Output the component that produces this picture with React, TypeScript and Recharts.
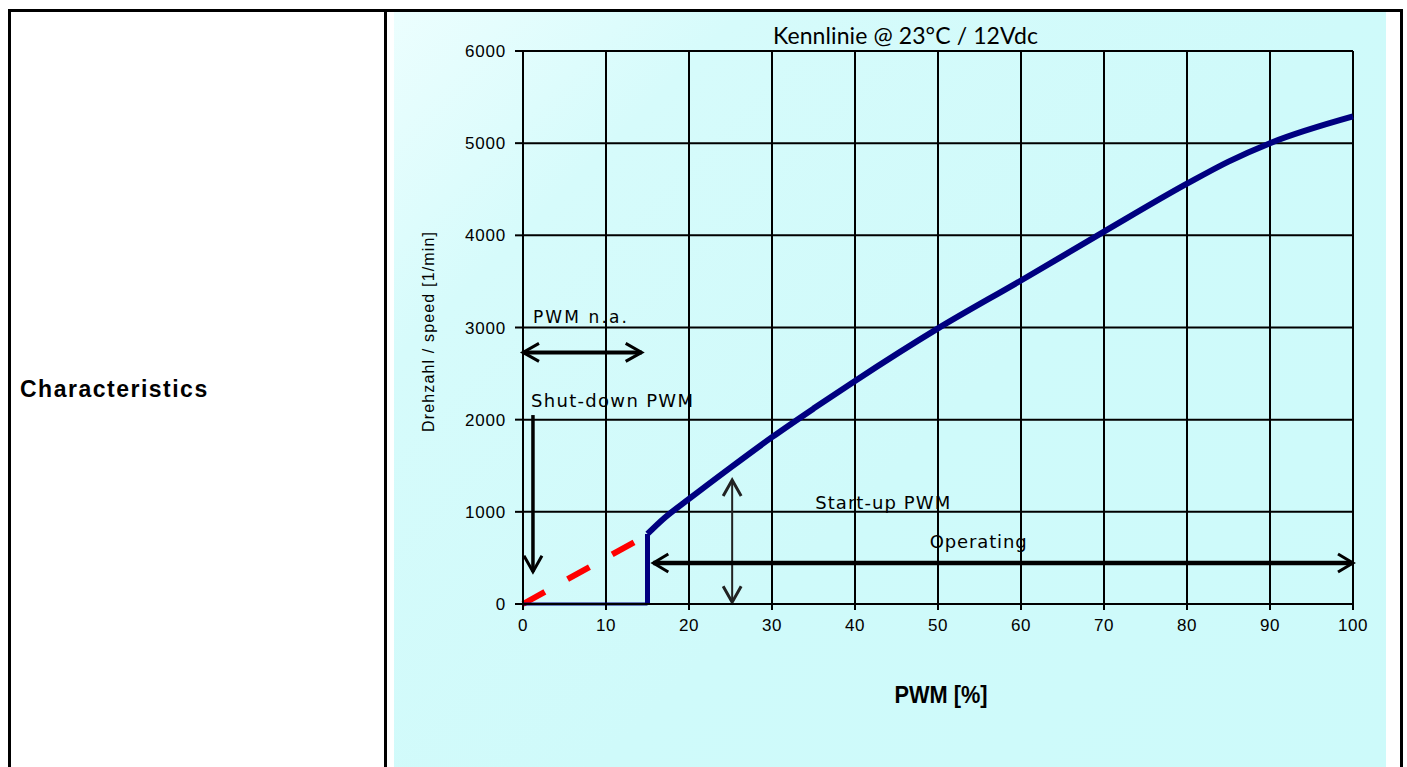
import React from 'react'
import {
  LineChart,
  Line,
  XAxis,
  YAxis,
  CartesianGrid,
  ReferenceLine,
  ReferenceDot,
  Label,
} from 'recharts'

// axis ticks
const pwmTicks = [0, 10, 20, 30, 40, 50, 60, 70, 80, 90, 100]
const speedTicks = [0, 1000, 2000, 3000, 4000, 5000, 6000]

// PWM [%] -> speed [1/min]
const idlePwm = [0, 15]
const idleSpeed = [0, 0]
const risePwm = [15, 15]
const riseSpeed = [0, 760]
const runPwm = [15, 17, 20, 25, 30, 35, 40, 50, 60, 70, 80, 85, 90, 100]
const runSpeed = [760, 930, 1140, 1480, 1810, 2120, 2420, 2990, 3510, 4040, 4560, 4800, 5000, 5290]
const naPwm = [0, 14]
const naSpeed = [0, 700]

// annotation arrows, in PWM / speed units
const arrows = [
  { id: 'na', from: [0, 2730], to: [14.3, 2730], heads: 'both' },
  { id: 'shutdown', from: [1.2, 2050], to: [1.2, 350], heads: 'end' },
  { id: 'startup', from: [25.2, 1345], to: [25.2, 20], heads: 'both' },
  { id: 'operating', from: [15.7, 445], to: [100, 445], heads: 'both' },
]

// text notes (baseline), in PWM / speed units
const notes = [
  { id: 'title', text: 'Kennlinie @ 23°C / 12Vdc', pwm: 46.08, speed: 6076 },
  { id: 'na', text: 'PWM n.a.', pwm: 1.2, speed: 3049 },
  { id: 'shutdown', text: 'Shut-down PWM', pwm: 0.96, speed: 2137 },
  { id: 'startup', text: 'Start-up PWM', pwm: 35.2, speed: 1031 },
  { id: 'operating', text: 'Operating', pwm: 49.0, speed: 608 },
]

const toRows = (xs: number[], ys: number[]) => xs.map((pwm, i) => ({ pwm, speed: ys[i] }))

const idleRows = toRows(idlePwm, idleSpeed)
const riseRows = toRows(risePwm, riseSpeed)
const runRows = toRows(runPwm, runSpeed)
const naRows = toRows(naPwm, naSpeed)

const arrowLook: Record<string, { color: string; width: number; head: number; half: number }> = {
  na: { color: '#000', width: 4, head: 16, half: 9 },
  shutdown: { color: '#000', width: 3.5, head: 16, half: 9 },
  startup: { color: '#222', width: 2, head: 16, half: 9 },
  operating: { color: '#000', width: 4.5, head: 15, half: 9 },
}

const tickFont = '"Liberation Sans", Arial, sans-serif'
const titleFont = 'Lato, "Open Sans", sans-serif'
const noteFont = '"DejaVu Sans", Verdana, sans-serif'

const noteLook: Record<string, { size: number; length: number; anchor: string; font: string }> = {
  title: { size: 23, length: 265, anchor: 'middle', font: titleFont },
  na: { size: 17, length: 94, anchor: 'start', font: noteFont },
  shutdown: { size: 18, length: 162, anchor: 'start', font: noteFont },
  startup: { size: 18, length: 135, anchor: 'start', font: noteFont },
  operating: { size: 18, length: 97, anchor: 'start', font: noteFont },
}

function Arrow(props: any) {
  const { x1, y1, x2, y2, look, heads } = props
  const dx = x2 - x1
  const dy = y2 - y1
  const len = Math.hypot(dx, dy) || 1
  const ux = dx / len
  const uy = dy / len
  const px = -uy
  const py = ux
  const chevron = (tx: number, ty: number, dir: number) => {
    const bx = tx - dir * ux * look.head
    const by = ty - dir * uy * look.head
    return `M${bx + px * look.half},${by + py * look.half} L${tx},${ty} L${bx - px * look.half},${by - py * look.half}`
  }
  let d = ''
  if (heads === 'both') d += chevron(x1, y1, -1) + ' '
  d += chevron(x2, y2, 1)
  return (
    <g>
      <line x1={x1} y1={y1} x2={x2} y2={y2} stroke={look.color} strokeWidth={look.width} />
      <path d={d} fill="none" stroke={look.color} strokeWidth={3} strokeLinejoin="miter" />
    </g>
  )
}

function PwmTick(props: any) {
  const { x, y, payload } = props
  return (
    <text x={x} y={y} dy="0.72em" textAnchor="middle" fontFamily={tickFont} fontSize={17} letterSpacing={0.6} fill="#000">
      {payload.value}
    </text>
  )
}

function SpeedTick(props: any) {
  const { x, y, payload } = props
  return (
    <text x={x} y={y} dy="0.36em" textAnchor="end" fontFamily={tickFont} fontSize={17} letterSpacing={0.8} fill="#000">
      {payload.value}
    </text>
  )
}

export default function App() {
  return (
    <div
      style={{
        position: 'absolute',
        left: 0,
        top: 0,
        width: 1407,
        height: 767,
        overflow: 'hidden',
        background: '#fff',
      }}
    >
      {/* table frame */}
      <div
        style={{
          position: 'absolute',
          left: 8,
          top: 9,
          width: 1395,
          height: 820,
          border: '3px solid #000',
          boxSizing: 'border-box',
        }}
      />
      <div style={{ position: 'absolute', left: 384, top: 9, width: 3, height: 820, background: '#000' }} />
      <div
        style={{
          position: 'absolute',
          left: 20,
          top: 378,
          fontFamily: tickFont,
          fontWeight: 'bold',
          fontSize: 23,
          lineHeight: '23px',
          letterSpacing: 1.5,
          color: '#000',
        }}
      >
        Characteristics
      </div>

      <div
        style={{
          position: 'absolute',
          left: 394,
          top: 12,
          width: 992,
          height: 756,
          background: 'linear-gradient(135deg, #ecfefe 0%, #d6fbfb 20%, #cffafa 55%, #cdfafa 100%)',
        }}
      >
        <LineChart width={992} height={756} margin={{ top: 39, right: 33, bottom: 0, left: 0 }}>
          <CartesianGrid stroke="#000" strokeWidth={2} />
          <XAxis
            dataKey="pwm"
            type="number"
            domain={[0, 100]}
            ticks={pwmTicks}
            interval={0}
            height={164}
            tickSize={6}
            tickMargin={9}
            axisLine={{ stroke: '#000', strokeWidth: 2 }}
            tickLine={{ stroke: '#000', strokeWidth: 2 }}
            tick={<PwmTick />}
          >
            <Label
              content={(p: any) => {
                const vb = p.viewBox
                return (
                  <text
                    x={vb.x + vb.width / 2 + 3}
                    y={vb.y + 99}
                    textAnchor="middle"
                    fontFamily={tickFont}
                    fontWeight="bold"
                    fontSize={23}
                    textLength={93}
                    lengthAdjust="spacingAndGlyphs"
                    fill="#000"
                  >
                    PWM [%]
                  </text>
                )
              }}
            />
          </XAxis>
          <YAxis
            dataKey="speed"
            type="number"
            domain={[0, 6000]}
            ticks={speedTicks}
            interval={0}
            width={129}
            tickSize={8}
            tickMargin={9}
            axisLine={{ stroke: '#000', strokeWidth: 2 }}
            tickLine={{ stroke: '#000', strokeWidth: 2 }}
            tick={<SpeedTick />}
          >
            <Label
              content={(p: any) => {
                const vb = p.viewBox
                const x = vb.x + 40
                const y = vb.y + vb.height / 2 + 4.5
                return (
                  <text
                    x={x}
                    y={y}
                    transform={`rotate(-90, ${x}, ${y})`}
                    textAnchor="middle"
                    fontFamily={tickFont}
                    fontSize={16}
                    textLength={200}
                    fill="#000"
                  >
                    Drehzahl / speed [1/min]
                  </text>
                )
              }}
            />
          </YAxis>

          <Line
            data={naRows}
            dataKey="speed"
            type="linear"
            stroke="#ff0000"
            strokeWidth={6}
            strokeDasharray="25 26"
            dot={false}
            activeDot={false}
            isAnimationActive={false}
          />
          <Line
            data={idleRows}
            dataKey="speed"
            type="linear"
            stroke="#000080"
            strokeWidth={3}
            dot={false}
            activeDot={false}
            isAnimationActive={false}
          />
          <Line
            data={riseRows}
            dataKey="speed"
            type="linear"
            stroke="#000080"
            strokeWidth={5}
            dot={false}
            activeDot={false}
            isAnimationActive={false}
          />
          <Line
            data={runRows}
            dataKey="speed"
            type="monotone"
            stroke="#000080"
            strokeWidth={6}
            strokeLinejoin="round"
            dot={false}
            activeDot={false}
            isAnimationActive={false}
          />

          {arrows.map((a) => (
            <ReferenceLine
              key={a.id}
              segment={[
                { x: a.from[0], y: a.from[1] },
                { x: a.to[0], y: a.to[1] },
              ]}
              ifOverflow="visible"
              shape={(p: any) => <Arrow {...p} look={arrowLook[a.id]} heads={a.heads} />}
            />
          ))}

          {notes.map((n) => {
            const look = noteLook[n.id]
            return (
              <ReferenceDot
                key={n.id}
                x={n.pwm}
                y={n.speed}
                r={0}
                ifOverflow="visible"
                shape={(p: any) => (
                  <text
                    x={p.cx}
                    y={p.cy}
                    textAnchor={look.anchor}
                    fontFamily={look.font}
                    fontSize={look.size}
                    textLength={look.length}
                    fill="#000"
                  >
                    {n.text}
                  </text>
                )}
              />
            )
          })}
        </LineChart>
      </div>
    </div>
  )
}
